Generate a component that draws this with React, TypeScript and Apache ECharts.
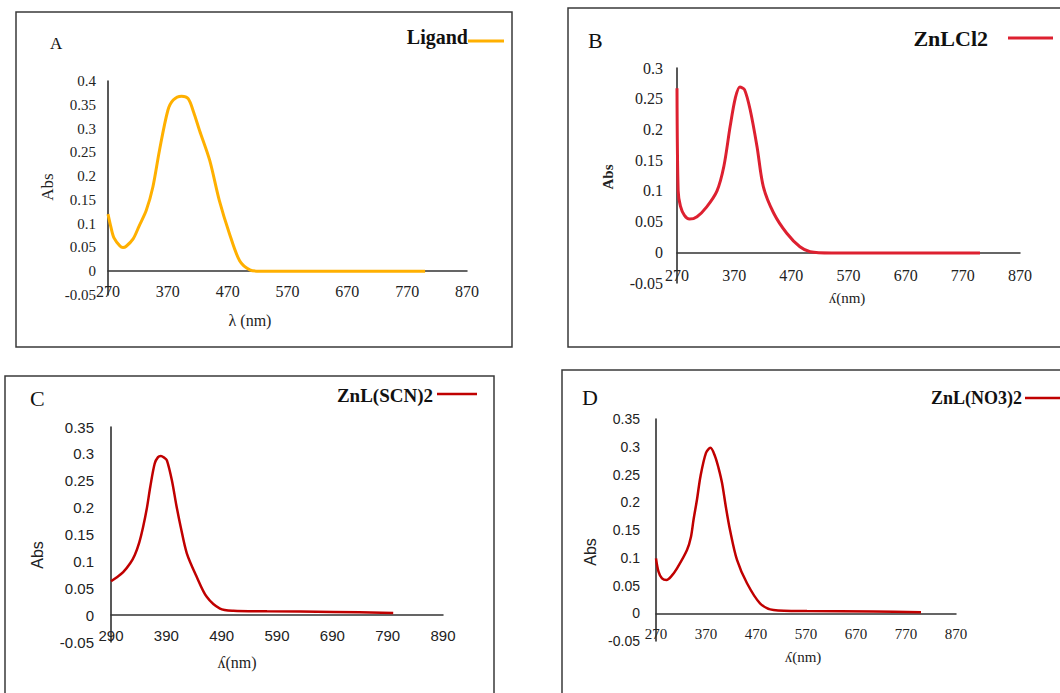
import React, { useEffect, useRef } from 'react';
import * as echarts from 'echarts';

// ---------- data ----------
const ligandWl = [270, 275, 280, 290, 295, 300, 312, 322, 334, 345, 356, 370, 379, 393, 404, 413, 423, 440, 456, 473, 490, 507, 524, 560, 600, 650, 700, 750, 800];
const ligandAbs = [0.12, 0.092, 0.07, 0.053, 0.05, 0.052, 0.068, 0.095, 0.128, 0.177, 0.254, 0.338, 0.36, 0.368, 0.363, 0.335, 0.296, 0.233, 0.149, 0.079, 0.022, 0.003, 0, 0, 0, 0, 0, 0, 0];

const znCl2Wl = [270, 272, 276, 283, 292, 305, 322, 340, 352, 363, 372, 380, 388, 398, 410, 421, 439, 462, 485, 503, 540, 600, 700, 800];
const znCl2Abs = [0.267, 0.1, 0.075, 0.06, 0.054, 0.058, 0.074, 0.1, 0.14, 0.205, 0.251, 0.269, 0.265, 0.232, 0.172, 0.107, 0.064, 0.031, 0.009, 0.001, -0.001, -0.001, -0.001, -0.001];

const znScnWl = [290, 300, 312, 325, 333, 341, 348, 355, 361, 369, 375, 380, 386, 391, 400, 408, 416, 427, 445, 463, 487, 511, 572, 692, 800];
const znScnAbs = [0.063, 0.07, 0.08, 0.097, 0.112, 0.135, 0.164, 0.2, 0.239, 0.282, 0.294, 0.296, 0.293, 0.288, 0.251, 0.205, 0.164, 0.115, 0.071, 0.034, 0.012, 0.008, 0.007, 0.006, 0.004];

const znNo3Wl = [270, 275, 282, 291, 300, 312, 332, 340, 345, 352, 359, 370, 379, 388, 395, 402, 410, 418, 432, 452, 478, 505, 572, 705, 800];
const znNo3Abs = [0.099, 0.075, 0.063, 0.06, 0.066, 0.081, 0.114, 0.138, 0.168, 0.205, 0.247, 0.289, 0.298, 0.283, 0.262, 0.235, 0.19, 0.15, 0.096, 0.054, 0.018, 0.006, 0.004, 0.003, 0.002];

const seriesNames = ['Ligand', 'ZnLCl2', 'ZnL(SCN)2', 'ZnL(NO3)2'];
const panelLetters = ['A', 'B', 'C', 'D'];
const xTitles = ['λ (nm)', 'ʎ(nm)', 'ʎ(nm)', 'ʎ(nm)'];
const yTitle = 'Abs';
const xMins = [270, 270, 290, 270];
const xMaxs = [870, 870, 890, 870];
const yMins = [-0.05, -0.05, -0.05, -0.05];
const yMaxs = [0.4, 0.3, 0.35, 0.35];

const SERIF = '"Liberation Serif", "Times New Roman", serif';
const SANS = '"Liberation Sans", Arial, sans-serif';

const pairs = (wl: number[], ab: number[]) => wl.map((w, i) => [w, ab[i]]);
const seriesData = [
  pairs(ligandWl, ligandAbs),
  pairs(znCl2Wl, znCl2Abs),
  pairs(znScnWl, znScnAbs),
  pairs(znNo3Wl, znNo3Abs),
];

// ---------- layout / style ----------
const grids = [
  { left: 108, top: 81, width: 359, height: 214 },
  { left: 677, top: 68, width: 343, height: 215 },
  { left: 111, top: 427, width: 332, height: 215 },
  { left: 656, top: 419, width: 300, height: 222 },
];
const colors = ['#FFB000', '#DD2030', '#C00000', '#C00000'];
const lineWidths = [3, 3, 2.5, 2.5];
const yLabelStyle = [
  { font: SERIF, size: 15, margin: 12 },
  { font: SERIF, size: 16, margin: 14 },
  { font: SANS, size: 15, margin: 17 },
  { font: SANS, size: 14, margin: 16 },
];
const xLabelStyle = [
  { font: SERIF, size: 16, margin: -12 },
  { font: SERIF, size: 16, margin: -16 },
  { font: SANS, size: 15, margin: -14 },
  { font: SERIF, size: 15, margin: -15 },
];
const borders = [
  { x: 16, y: 12, w: 496, h: 335 },
  { x: 568, y: 8, w: 500, h: 339 },
  { x: 5, y: 376, w: 489, h: 330 },
  { x: 562, y: 370, w: 510, h: 330 },
];
const letterPos = [
  { x: 50, y: 43, size: 17 },
  { x: 588, y: 40, size: 22 },
  { x: 30, y: 398, size: 22 },
  { x: 582, y: 397, size: 22 },
];
const legendPos = [
  { textRight: 468, y: 37, size: 20, x1: 468, x2: 504, ly: 41 },
  { textRight: 988, y: 38, size: 22, x1: 1008, x2: 1053, ly: 38 },
  { textRight: 433, y: 395, size: 19, x1: 437, x2: 477, ly: 394 },
  { textRight: 1022, y: 398, size: 18, x1: 1025, x2: 1062, ly: 398 },
];
const xTitlePos = [
  { x: 250, y: 320, size: 16, font: SERIF },
  { x: 847, y: 298, size: 15, font: SERIF },
  { x: 237, y: 662, size: 16, font: SERIF },
  { x: 803, y: 657, size: 15, font: SERIF },
];
const yTitlePos = [
  { x: 47, y: 187, size: 17, font: SERIF, weight: 'normal' },
  { x: 608, y: 177, size: 15, font: SERIF, weight: 'bold' },
  { x: 37, y: 555, size: 16, font: SANS, weight: 'normal' },
  { x: 590, y: 552, size: 16, font: SANS, weight: 'normal' },
];

export default function App() {
  const ref = useRef<HTMLDivElement>(null);
  useEffect(() => {
    if (!ref.current) return;
    const chart = echarts.init(ref.current, null, { renderer: 'svg' });
    const graphic: any[] = [];
    for (let i = 0; i < 4; i++) {
      const b = borders[i];
      graphic.push({
        type: 'rect', shape: { x: b.x, y: b.y, width: b.w, height: b.h },
        style: { fill: 'none', stroke: '#3a3a3a', lineWidth: 1.5 }, silent: true,
      });
      const lp = letterPos[i];
      graphic.push({
        type: 'text', x: lp.x, y: lp.y,
        style: { text: panelLetters[i], font: `${lp.size}px ${SERIF}`, fill: '#111', verticalAlign: 'middle', align: 'left' },
      });
      const lg = legendPos[i];
      graphic.push({
        type: 'text', x: lg.textRight, y: lg.y,
        style: { text: seriesNames[i], font: `bold ${lg.size}px ${SERIF}`, fill: '#111', verticalAlign: 'middle', align: 'right' },
      });
      graphic.push({
        type: 'line', shape: { x1: lg.x1, y1: lg.ly, x2: lg.x2, y2: lg.ly },
        style: { stroke: colors[i], lineWidth: lineWidths[i] },
      });
      const xt = xTitlePos[i];
      graphic.push({
        type: 'text', x: xt.x, y: xt.y,
        style: { text: xTitles[i], font: `${xt.size}px ${xt.font}`, fill: '#222', verticalAlign: 'middle', align: 'center' },
      });
      const yt = yTitlePos[i];
      graphic.push({
        type: 'text', x: yt.x, y: yt.y, rotation: Math.PI / 2,
        style: { text: yTitle, font: `${yt.weight} ${yt.size}px ${yt.font}`, fill: '#222', verticalAlign: 'middle', align: 'center' },
      });
    }

    const option: any = {
      animation: false,
      backgroundColor: '#ffffff',
      grid: grids.map((g) => ({ ...g, containLabel: false })),
      xAxis: grids.map((_, i) => ({
        type: 'value', gridIndex: i, min: xMins[i], max: xMaxs[i], interval: 10,
        axisLine: { show: true, onZero: true, lineStyle: { color: '#333', width: 1.5 } },
        axisTick: { show: false },
        splitLine: { show: false },
        axisLabel: {
          margin: xLabelStyle[i].margin,
          fontFamily: xLabelStyle[i].font, fontSize: xLabelStyle[i].size, color: '#222',
          formatter: (v: number) => {
            const r = Math.round(v);
            return (r - xMins[i]) % 100 === 0 ? String(r) : '';
          },
        },
      })),
      yAxis: grids.map((_, i) => ({
        type: 'value', gridIndex: i, min: yMins[i], max: yMaxs[i], interval: 0.05,
        axisLine: { show: true, onZero: false, lineStyle: { color: '#222', width: 1.5 } },
        axisTick: { show: false },
        splitLine: { show: false },
        axisLabel: {
          margin: yLabelStyle[i].margin,
          fontFamily: yLabelStyle[i].font, fontSize: yLabelStyle[i].size, color: '#222',
          formatter: (v: number) => String(+v.toFixed(2)),
        },
      })),
      series: seriesData.map((d, i) => ({
        name: seriesNames[i], type: 'line', xAxisIndex: i, yAxisIndex: i,
        data: d, smooth: 0.3, showSymbol: false, symbol: 'none',
        lineStyle: { color: colors[i], width: lineWidths[i] },
        itemStyle: { color: colors[i] },
      })),
      graphic,
    };
    chart.setOption(option);
    return () => chart.dispose();
  }, []);
  return (
    <div
      ref={ref}
      style={{ position: 'absolute', left: 0, top: 0, width: 1060, height: 693, background: '#fff' }}
    />
  );
}
